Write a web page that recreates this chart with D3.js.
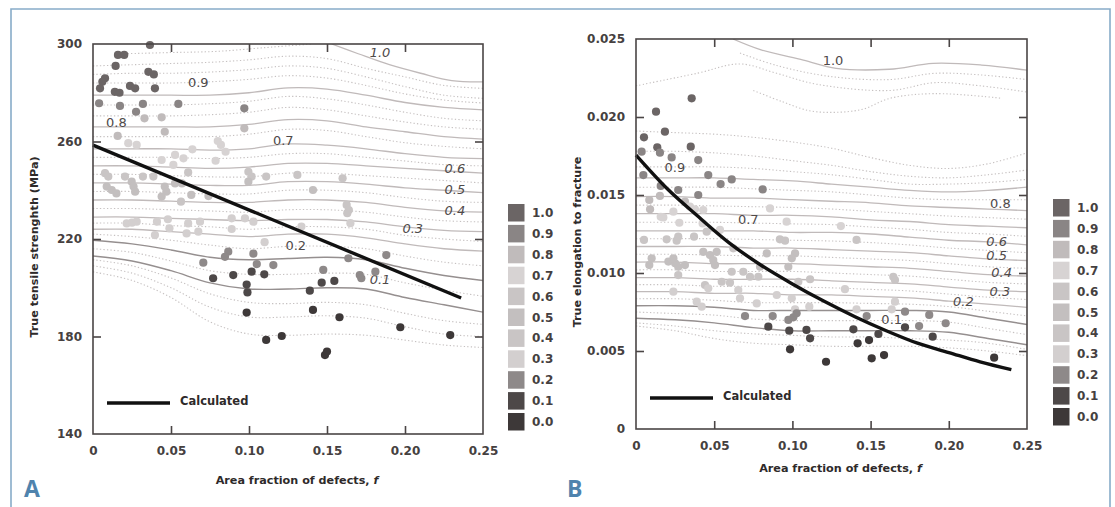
<!DOCTYPE html>
<html><head><meta charset="utf-8">
<script src="https://cdn.jsdelivr.net/npm/d3@7"></script>
<style>body{margin:0;background:#fff;} svg{display:block;}</style>
</head><body>
<svg id="c" width="1115" height="507"></svg>
<script>
// ---------- shared ----------
const xTicks = [0, 0.05, 0.10, 0.15, 0.20, 0.25];
const xTickLabels = ["0", "0.05", "0.10", "0.15", "0.20", "0.25"];
const legendLevels = [1.0, 0.9, 0.8, 0.7, 0.6, 0.5, 0.4, 0.3, 0.2, 0.1, 0.0];
const legendLabels = ["1.0", "0.9", "0.8", "0.7", "0.6", "0.5", "0.4", "0.3", "0.2", "0.1", "0.0"];
const legendColors = ["#6b6565", "#8a8585", "#c0bbbb", "#d7d3d3", "#c9c5c5", "#c3bfbf", "#c9c5c5", "#d3cfcf", "#8e8989", "#4d4848", "#3d3838"];
const fGrid = [0, 0.025, 0.05, 0.075, 0.10, 0.125, 0.15, 0.175, 0.20, 0.225, 0.25];

// ---------- Panel A (tensile strength) ----------
const aYTicks = [140, 180, 220, 260, 300];
const aLine10F = [0.153, 0.17, 0.19, 0.21, 0.23, 0.25];
const aLine10 = [300, 296, 291.5, 288, 285, 284.5];
const aLine09 = [279, 279, 279, 279, 280, 282, 281.5, 279, 276, 274, 273];
const aLine08 = [266, 266, 266, 266, 267, 269, 268.5, 266, 264, 262, 261];
const aLine07 = [257, 257, 257, 256.5, 257, 259, 258.5, 257, 255, 253.5, 253];
const aLine06 = [250, 250, 249.5, 249, 249.5, 251, 251, 250, 249, 248, 247];
const aLine05 = [243, 243, 242.5, 242, 242, 243.5, 243.5, 242.5, 241, 240, 239];
const aLine04 = [236, 236, 235.5, 235, 235, 236, 236, 235, 233, 231.5, 231];
const aLine03 = [229, 229, 228.5, 228, 227.5, 228, 228, 227, 225, 223.5, 223];
const aLine025 = [224, 224, 223, 222, 221, 222, 222, 220.5, 218, 216, 215];
const aLine02 = [219.5, 218, 215.5, 212.5, 211.5, 212, 212.5, 211.5, 208, 205, 203];
const aLine01 = [213, 211, 207, 202, 199.5, 199.5, 200, 199.5, 196, 193, 190];
const aDotTopF = [0.02, 0.05, 0.08, 0.11, 0.14];
const aDotTop = [296, 296.5, 297, 298.5, 300];
const aDot1 = [291, 291.5, 292, 292.5, 293.5, 295, 294, 290, 286.5, 283, 281.8];
const aDot2 = [287.5, 288, 288, 288.5, 289.5, 291, 290, 286.5, 282.5, 279, 277.7];
const aDot3 = [284, 284, 284, 284.5, 285.5, 287, 286, 283, 279.5, 277, 275.8];
const aDot4 = [275, 275, 275, 275.5, 276.5, 278.5, 277.5, 275, 272, 269.5, 268.5];
const aDot5 = [270.5, 270.5, 270.5, 271, 272, 274, 273, 270.5, 268, 266, 265];
const aDot6 = [262, 262, 262, 262, 263, 265, 264.5, 262, 259.5, 258, 257];
const aDot7 = [253.5, 253.5, 253.5, 253, 253.5, 255, 255, 253.5, 252, 250.5, 250];
const aDot8 = [246.5, 246.5, 246, 245.5, 245.5, 247, 247, 246, 245, 244, 243];
const aDot9 = [239.5, 239.5, 239, 238.5, 238.5, 240, 240, 239, 237, 235.5, 235];
const aDot10 = [232.5, 232.5, 232, 231.5, 231, 232, 232, 231, 229, 227.5, 227];
const aDot11 = [226.5, 226.5, 225.5, 225, 224, 225, 225, 224, 221.5, 220, 219];
const aDot12 = [222, 221, 219.5, 217.5, 216, 217, 217, 216, 213, 210.5, 209];
const aDot13 = [216, 214.5, 211, 207, 205.5, 205.5, 206, 205.5, 202, 199, 196.5];
const aDot14 = [211.5, 209, 204, 197.5, 194, 193.5, 194, 193, 189.5, 186.5, 185];
const aDot15 = [209, 206, 200, 192, 188, 188, 188.5, 187.5, 184, 181, 180];
const aDot16 = [206.5, 203, 196, 186, 181, 180.5, 181, 180.5, 178.5, 176.5, 175.5];
const aLabelText = ["1.0", "0.9", "0.8", "0.7", "0.6", "0.5", "0.4", "0.3", "0.2", "0.1"];
const aLabelF = [0.184, 0.0675, 0.015, 0.122, 0.232, 0.232, 0.232, 0.205, 0.13, 0.184];
const aLabelV = [296.6, 284.4, 268, 260.6, 249, 240.4, 231.6, 224.4, 217.5, 203.3];
const aLabelItalic = [true, false, false, false, true, true, true, true, false, true];

const aPtF = [0.0365,0.016,0.020,0.0145,0.0355,0.039,0.0077,0.006,0.0237,0.027,0.0397,0.0045,0.014,0.017,
  0.0039,0.0173,0.032,0.0547,0.097,0.0276,0.033,0.044,0.0158,0.046,0.097,0.0226,0.028,0.080,0.082,0.085,
  0.0637,0.0526,0.058,0.0786,0.044,0.0515,0.0077,0.0098,0.0205,0.032,0.0387,0.061,0.0996,0.1017,0.111,
  0.131,0.160,0.0088,0.012,0.015,0.0248,0.026,0.027,0.046,0.047,0.044,0.0526,0.057,0.063,0.0564,0.074,
  0.0996,0.141,0.1626,0.164,0.163,0.165,0.1336,0.0216,0.025,0.028,0.041,0.048,0.049,0.061,0.0686,0.0675,
  0.0889,0.0974,0.1028,0.0397,0.060,0.0889,0.110,0.0867,0.0846,0.1028,0.0707,0.105,0.1156,0.1637,0.188,
  0.1476,0.181,0.077,0.0899,0.1017,0.1098,0.0985,0.099,0.1466,0.1547,0.139,0.171,0.172,0.0985,0.141,
  0.158,0.197,0.229,0.111,0.121,0.1487,0.150];
const aPtV = [299.6,295.5,295.5,291.0,288.6,287.5,285.9,284.5,282.8,281.8,281.8,281.8,280.4,280.0,
  275.7,274.6,275.4,275.4,273.6,272.2,269.5,269.9,262.3,264.0,265.4,259.3,258.6,260.2,258.6,255.8,
  256.8,254.5,253.1,252.1,252.4,250.4,247.0,245.6,245.6,245.6,245.6,247.3,247.6,245.6,245.6,
  246.3,244.9,241.5,240.1,238.7,243.5,241.5,239.4,241.5,239.4,237.4,242.8,242.8,238.1,235.3,237.6,
  243.5,240.1,234.0,231.9,230.6,226.5,225.1,226.4,226.7,227.1,227.1,228.1,224.4,226.4,227.1,223.0,
  228.5,228.5,227.1,221.6,222.3,224.1,218.7,214.8,212.7,214.0,210.3,209.7,209.3,212.1,213.4,
  207.3,206.6,203.9,205.2,206.6,205.5,201.3,198.1,202.1,202.8,198.8,205.2,203.9,189.8,190.9,
  187.9,183.8,180.6,178.6,180.2,172.4,173.8];
const aPtLevel = [1,1,1,1,1,1,1,1,1,1,1,1,1,1,
  0.9,0.9,0.9,0.9,0.9,0.9,0.8,0.8,0.8,0.8,0.8,0.7,0.7,0.7,0.7,0.7,
  0.7,0.7,0.7,0.7,0.7,0.7,0.6,0.6,0.6,0.6,0.6,0.6,0.6,0.6,0.6,
  0.6,0.6,0.5,0.5,0.5,0.5,0.5,0.5,0.5,0.5,0.5,0.5,0.5,0.5,0.4,0.5,
  0.5,0.5,0.4,0.4,0.4,0.3,0.3,0.3,0.3,0.3,0.3,0.3,0.3,0.3,0.3,0.3,
  0.3,0.3,0.3,0.3,0.3,0.3,0.3,0.2,0.2,0.2,0.2,0.2,0.2,0.2,0.2,
  0.2,0.2,0.1,0.1,0.1,0.1,0.1,0.1,0.1,0.1,0.1,0.2,0.2,0,0,
  0,0,0,0,0,0,0];
const aCalcF = [0, 0.236];
const aCalcV = [258.5, 195.8];

// ---------- Panel B (elongation) ----------
const bYTicks = [0, 0.005, 0.010, 0.015, 0.020, 0.025];
const bYTickLabels = ["0", "0.005", "0.010", "0.015", "0.020", "0.025"];
const bLine10F = [0.062, 0.08, 0.107, 0.128, 0.162, 0.19, 0.221, 0.25];
const bLine10 = [0.0250, 0.0243, 0.02365, 0.02312, 0.02306, 0.02344, 0.02333, 0.0230];
const bLine09 = [0.0161, 0.0161, 0.0161, 0.0160, 0.0159, 0.0157, 0.0155, 0.0153, 0.0152, 0.0153, 0.0155];
const bLine08 = [0.0149, 0.0149, 0.0148, 0.0148, 0.0147, 0.0146, 0.0145, 0.0143, 0.0142, 0.0141, 0.0140];
const bLine07 = [0.0138, 0.0138, 0.0138, 0.0137, 0.0137, 0.0136, 0.0134, 0.0133, 0.0131, 0.0130, 0.0129];
const bLine06 = [0.0127, 0.0127, 0.0127, 0.0127, 0.0126, 0.0126, 0.0125, 0.0123, 0.0121, 0.0120, 0.0118];
const bLine05 = [0.0117, 0.0117, 0.0117, 0.0116, 0.0116, 0.0115, 0.0114, 0.0113, 0.0111, 0.0109, 0.0108];
const bLine04 = [0.0107, 0.0107, 0.0106, 0.0106, 0.0106, 0.0105, 0.0104, 0.0103, 0.0101, 0.0099, 0.0098];
const bLine03 = [0.0097, 0.0097, 0.0096, 0.0096, 0.0096, 0.0095, 0.0094, 0.0093, 0.0091, 0.0089, 0.0088];
const bLine025 = [0.0088, 0.0088, 0.0087, 0.0087, 0.0086, 0.0086, 0.0085, 0.0084, 0.0082, 0.0080, 0.0078];
const bLine02 = [0.0079, 0.0079, 0.0078, 0.0076, 0.0076, 0.0076, 0.0076, 0.0076, 0.0075, 0.0071, 0.0067];
const bLine01 = [0.0071, 0.0070, 0.0068, 0.0065, 0.0063, 0.0063, 0.0063, 0.0063, 0.0062, 0.0058, 0.0054];
const bDotTop1F = [0.0665, 0.09, 0.124, 0.1624, 0.191, 0.22, 0.25];
const bDotTop1 = [0.0241, 0.0233, 0.0226, 0.0224, 0.0228, 0.0227, 0.0224];
const bDotTop2F = [0, 0.039, 0.0665, 0.09, 0.1155, 0.1624, 0.191, 0.22, 0.25];
const bDotTop2 = [0.0220, 0.0228, 0.0234, 0.0228, 0.0221, 0.0217, 0.0222, 0.0220, 0.0216];
const bDotTop3F = [0.075, 0.093, 0.111, 0.128, 0.145, 0.1624, 0.191, 0.234];
const bDotTop3 = [0.0217, 0.0210, 0.0204, 0.0203, 0.0205, 0.0212, 0.0215, 0.0212];
const bDot1 = [0.0191, 0.0190, 0.0189, 0.0187, 0.0184, 0.0180, 0.0174, 0.0169, 0.0167, 0.0170, 0.0177];
const bDot2 = [0.0178, 0.0178, 0.0177, 0.0175, 0.0172, 0.0169, 0.0165, 0.0162, 0.0161, 0.0163, 0.0166];
const bDot3 = [0.0168, 0.0168, 0.0168, 0.0167, 0.0165, 0.0163, 0.0160, 0.0157, 0.0157, 0.0158, 0.0160];
const bDot4 = [0.0155, 0.0155, 0.0155, 0.0154, 0.0153, 0.0152, 0.0150, 0.0148, 0.0147, 0.0147, 0.0147];
const bDot5 = [0.01435, 0.01435, 0.0143, 0.01425, 0.0142, 0.0141, 0.01395, 0.0138, 0.01365, 0.01355, 0.01345];
const bDot6 = [0.01325, 0.01325, 0.01325, 0.0132, 0.01315, 0.0131, 0.01295, 0.0128, 0.0126, 0.0125, 0.01235];
const bDot7 = [0.0122, 0.0122, 0.0122, 0.01215, 0.0121, 0.01205, 0.01195, 0.0118, 0.0116, 0.01145, 0.0113];
const bDot8 = [0.0112, 0.0112, 0.01115, 0.0111, 0.0111, 0.011, 0.0109, 0.0108, 0.0106, 0.0104, 0.0103];
const bDot9 = [0.0102, 0.0102, 0.0101, 0.0101, 0.0101, 0.01, 0.0099, 0.0098, 0.0096, 0.0094, 0.0093];
const bDot10 = [0.00925, 0.00925, 0.00915, 0.00915, 0.0091, 0.00905, 0.00895, 0.00885, 0.00865, 0.00845, 0.0083];
const bDot11 = [0.00835, 0.00835, 0.00825, 0.0081, 0.0081, 0.0081, 0.00805, 0.008, 0.00785, 0.00755, 0.00725];
const bDot12 = [0.0075, 0.0074, 0.0073, 0.00705, 0.00695, 0.00695, 0.00695, 0.00695, 0.00685, 0.00645, 0.00605];
const bDot13 = [0.0068, 0.0066, 0.0063, 0.0061, 0.0060, 0.0059, 0.0059, 0.0058, 0.0057, 0.0055, 0.0051];
const bDot14 = [0.0066, 0.0063, 0.0058, 0.0055, 0.0054, 0.0053, 0.0053, 0.0053, 0.0052, 0.0050, 0.0047];
const bLabelText = ["1.0", "0.9", "0.8", "0.7", "0.6", "0.5", "0.4", "0.3", "0.2", "0.1"];
const bLabelF = [0.126, 0.0249, 0.233, 0.0718, 0.2306, 0.2306, 0.2338, 0.2327, 0.2093, 0.1635];
const bLabelV = [0.0236, 0.01677, 0.01447, 0.01344, 0.0120, 0.01109, 0.01002, 0.0088, 0.00816, 0.00703];
const bLabelItalic = [false, false, false, false, true, true, true, true, true, false];

const bPtF = [0.0356,0.0128,0.0185,0.0051,0.0036,0.0136,0.0153,0.035,0.0228,0.0398,0.0047,0.0462,0.0541,
  0.0612,0.081,0.0158,0.027,0.0398,0.0085,0.0153,0.0313,0.009,0.0158,0.0175,0.0239,0.0277,0.0345,0.0377,
  0.043,0.0857,0.0963,0.131,0.141,0.0051,0.0196,0.026,0.027,0.0371,0.0426,0.0452,0.092,0.0953,0.0622,
  0.0537,0.010,0.0085,0.0207,0.025,0.027,0.0239,0.0313,0.027,0.043,0.0473,0.0494,0.0505,0.0516,0.0612,
  0.0686,0.0548,0.0601,0.0654,0.0665,0.0441,0.0462,0.0239,0.0388,0.042,0.0729,0.0782,0.0772,0.0836,
  0.0793,0.090,0.1017,0.0996,0.0974,0.1038,0.0996,0.1113,0.1108,0.1017,0.1336,0.1645,0.1656,0.1656,
  0.141,0.1635,0.172,0.1475,0.1875,0.198,0.181,0.172,0.0697,0.0874,0.0974,0.1006,0.1027,0.0846,0.098,
  0.109,0.1113,0.139,0.1417,0.149,0.155,0.1897,0.0985,0.1215,0.1507,0.1586,0.229];
const bPtV = [0.0212,0.02034,0.01906,0.0187,0.01778,0.01806,0.01771,0.0181,0.01741,0.01724,0.01628,0.01628,0.0157,
  0.0160,0.01536,0.01558,0.01532,0.0150,0.01468,0.01494,0.01457,0.01408,0.0136,0.01356,0.01393,0.01322,0.01425,0.01408,
  0.01404,0.01414,0.01329,0.01301,0.01212,0.01212,0.01216,0.01207,0.01233,0.01233,0.01318,0.01265,0.01216,0.01207,0.01158,
  0.01276,0.01094,0.01051,0.01073,0.01062,0.0104,0.01094,0.01051,0.00987,0.01136,0.01115,0.01083,0.01051,0.01136,0.01008,
  0.01008,0.00944,0.00938,0.00891,0.00838,0.00923,0.00902,0.0088,0.00816,0.00784,0.00976,0.00976,0.00805,0.01126,
  0.0104,0.00859,0.01126,0.01094,0.0104,0.00944,0.00838,0.0096,0.00784,0.00767,0.00896,0.00976,0.00955,0.00816,
  0.00767,0.00767,0.00752,0.00724,0.00731,0.00678,0.0066,0.00652,0.00724,0.00724,0.00699,0.00716,0.00742,0.00656,0.0063,
  0.00635,0.00581,0.00639,0.00549,0.0057,0.00609,0.00592,0.00511,0.00431,0.00453,0.00474,0.00457];
const bPtLevel = [1,1,1,1,0.9,1,0.9,1,0.9,0.9,0.9,0.9,0.9,
  0.9,0.9,0.9,0.9,0.9,0.8,0.8,0.8,0.8,0.7,0.7,0.7,0.7,0.7,0.7,
  0.7,0.7,0.7,0.7,0.6,0.6,0.6,0.6,0.6,0.6,0.7,0.6,0.6,0.6,0.6,
  0.7,0.5,0.5,0.5,0.5,0.5,0.5,0.5,0.4,0.5,0.5,0.5,0.5,0.5,0.4,
  0.4,0.4,0.4,0.3,0.3,0.4,0.3,0.3,0.3,0.3,0.4,0.4,0.3,0.5,
  0.5,0.3,0.5,0.5,0.5,0.4,0.3,0.4,0.3,0.3,0.3,0.4,0.4,0.3,
  0.3,0.3,0.2,0.2,0.2,0.2,0.2,0.1,0.2,0.2,0.2,0.2,0.2,0.1,0.1,
  0.1,0.1,0.1,0,0,0.1,0.1,0,0,0,0,0];
const bCalcF = [0, 0.02, 0.04, 0.06, 0.08, 0.10, 0.12, 0.14, 0.16, 0.18, 0.20, 0.22, 0.24];
const bCalcV = [0.01756, 0.0154, 0.0136, 0.0119, 0.0105, 0.0093, 0.0082, 0.0072, 0.0063, 0.0055, 0.0049, 0.0043, 0.0038];

// ---------- drawing ----------
const svg = d3.select("#c");
const colorOf = d3.scaleOrdinal(legendLevels, legendColors);
const FONT = "'DejaVu Sans', sans-serif";

// outer frame
svg.append("path").attr("d", "M11,512 L11,9 L1110,9 L1110,512")
  .attr("fill", "none").attr("stroke", "#88acc9").attr("stroke-width", 1.6);

function panel(cfg) {
  const x = d3.scaleLinear().domain([0, 0.25]).range(cfg.xr);
  const y = d3.scaleLinear().domain(cfg.yd).range(cfg.yr);
  const g = svg.append("g");
  const clipId = "clip" + cfg.id;
  svg.append("clipPath").attr("id", clipId).append("rect")
    .attr("x", cfg.xr[0]).attr("y", cfg.yr[1]).attr("width", cfg.xr[1] - cfg.xr[0]).attr("height", cfg.yr[0] - cfg.yr[1]);
  const cg = g.append("g").attr("clip-path", `url(#${clipId})`);
  const line = d3.line().x(d => x(d[0])).y(d => y(d[1])).curve(d3.curveCatmullRom);
  const zip = (fs, vs) => fs.map((f, i) => [f, vs[i]]);

  cfg.dotted.forEach(([fs, vs]) => cg.append("path").attr("d", line(zip(fs, vs)))
    .attr("fill", "none").attr("stroke", "#c6c1c1").attr("stroke-width", 1.1).attr("stroke-dasharray", "1.3 2.2"));
  cfg.solid.forEach(([fs, vs, dark]) => cg.append("path").attr("d", line(zip(fs, vs)))
    .attr("fill", "none").attr("stroke", dark ? "#958f8f" : "#c0baba").attr("stroke-width", dark ? 1.4 : 1.3));

  // contour labels
  cfg.labels.t.forEach((t, i) => g.append("text").attr("x", x(cfg.labels.f[i])).attr("y", y(cfg.labels.v[i]))
    .attr("text-anchor", "middle").attr("dominant-baseline", "central")
    .attr("font-family", FONT).attr("font-size", 13).attr("fill", "#4f4a4a")
    .attr("font-style", cfg.labels.it[i] ? "italic" : "normal").text(t));

  // points
  g.selectAll("circle.pt").data(cfg.pf.map((f, i) => [f, cfg.pv[i], cfg.pl[i]])).enter().append("circle")
    .attr("cx", d => x(d[0])).attr("cy", d => y(d[1])).attr("r", 4.1)
    .attr("fill", d => colorOf(d[2]));

  // calculated
  g.append("path").attr("d", d3.line().x(d => x(d[0])).y(d => y(d[1])).curve(d3.curveMonotoneX)(zip(cfg.cf, cfg.cv)))
    .attr("fill", "none").attr("stroke", "#111").attr("stroke-width", 3.4);

  // frame
  g.append("rect").attr("x", cfg.xr[0]).attr("y", cfg.yr[1]).attr("width", cfg.xr[1] - cfg.xr[0]).attr("height", cfg.yr[0] - cfg.yr[1])
    .attr("fill", "none").attr("stroke", "#4a4545").attr("stroke-width", 1.6);

  const innerX = xTicks.slice(1, -1);
  const innerY = cfg.yTicks.slice(1, -1);
  const styleAxis = sel => { sel.select(".domain").remove(); sel.selectAll("line").attr("stroke", "#4a4545").attr("stroke-width", 1.6); };
  // bottom axis with labels
  g.append("g").attr("transform", `translate(0,${cfg.yr[0]})`)
    .call(d3.axisBottom(x).tickValues(xTicks).tickSize(-8).tickPadding(12).tickFormat((d, i) => xTickLabels[i]))
    .call(styleAxis)
    .call(s => { s.selectAll(".tick").filter(d => d === 0 || d === 0.25).select("line").remove();
      s.selectAll("text").attr("font-family", FONT).attr("font-weight", "bold").attr("font-size", 12).attr("fill", "#454040"); });
  g.append("g").attr("transform", `translate(0,${cfg.yr[1]})`)
    .call(d3.axisTop(x).tickValues(innerX).tickSize(-8).tickFormat("")).call(styleAxis);
  g.append("g").attr("transform", `translate(${cfg.xr[0]},0)`)
    .call(d3.axisLeft(y).tickValues(cfg.yTicks).tickSize(-8).tickPadding(11).tickFormat((d, i) => cfg.yTickLabels[i]))
    .call(styleAxis)
    .call(s => { s.selectAll(".tick").filter((d, i) => i === 0 || i === cfg.yTicks.length - 1).select("line").remove();
      s.selectAll("text").attr("font-family", FONT).attr("font-weight", "bold").attr("font-size", 12).attr("fill", "#454040"); });
  g.append("g").attr("transform", `translate(${cfg.xr[1]},0)`)
    .call(d3.axisRight(y).tickValues(innerY).tickSize(-8).tickFormat("")).call(styleAxis);

  // axis titles
  g.append("text").attr("x", (cfg.xr[0] + cfg.xr[1]) / 2 + 9).attr("y", cfg.xTitleY)
    .attr("text-anchor", "middle").attr("font-family", FONT).attr("font-weight", "bold").attr("font-size", 11.2)
    .attr("fill", "#2e2a2a").text("Area fraction of defects, ").append("tspan").attr("font-style", "italic").text("f");
  g.append("text").attr("transform", `translate(${cfg.yTitleX},${(cfg.yr[0] + cfg.yr[1]) / 2 + 8}) rotate(-90)`)
    .attr("text-anchor", "middle").attr("dominant-baseline", "central").attr("font-family", FONT).attr("font-weight", "bold").attr("font-size", 11.2)
    .attr("fill", "#2e2a2a").text(cfg.yTitle);

  // calculated legend
  g.append("line").attr("x1", cfg.xr[0] + 14).attr("x2", cfg.xr[0] + 77).attr("y1", cfg.calcLegY).attr("y2", cfg.calcLegY)
    .attr("stroke", "#111").attr("stroke-width", 3.4);
  g.append("text").attr("x", cfg.xr[0] + 87).attr("y", cfg.calcLegY - 2).attr("dominant-baseline", "central")
    .attr("font-family", FONT).attr("font-weight", "bold").attr("font-size", 11.5).attr("fill", "#2e2a2a").text("Calculated");

  // colour legend
  const lg = g.append("g");
  legendLevels.forEach((lv, i) => {
    lg.append("rect").attr("x", cfg.legX).attr("y", cfg.legY + i * 20.9).attr("width", 16.5).attr("height", 17.5)
      .attr("fill", legendColors[i]);
    lg.append("text").attr("x", cfg.legX + 24).attr("y", cfg.legY + i * 20.9 + 9).attr("dominant-baseline", "central")
      .attr("font-family", FONT).attr("font-weight", "bold").attr("font-size", 12).attr("fill", "#454040").text(legendLabels[i]);
  });

  // panel letter
  g.append("text").attr("x", cfg.letterX).attr("y", 497).attr("font-family", "'Open Sans', sans-serif").attr("font-weight", "bold")
    .attr("font-size", 23).attr("fill", "#4f83ad").text(cfg.letter);
}

panel({
  id: "A", xr: [93, 483], yr: [434, 44], yd: [140, 300],
  yTicks: aYTicks, yTickLabels: aYTicks.map(String),
  solid: [[aLine10F, aLine10], [fGrid, aLine09], [fGrid, aLine08], [fGrid, aLine07], [fGrid, aLine06], [fGrid, aLine05],
          [fGrid, aLine04], [fGrid, aLine03], [fGrid, aLine025], [fGrid, aLine02, true], [fGrid, aLine01, true]],
  dotted: [[aDotTopF, aDotTop], [fGrid, aDot1], [fGrid, aDot2], [fGrid, aDot3], [fGrid, aDot4], [fGrid, aDot5], [fGrid, aDot6],
           [fGrid, aDot7], [fGrid, aDot8], [fGrid, aDot9], [fGrid, aDot10], [fGrid, aDot11], [fGrid, aDot12],
           [fGrid, aDot13], [fGrid, aDot14], [fGrid, aDot15], [fGrid, aDot16]],
  labels: { t: aLabelText, f: aLabelF, v: aLabelV, it: aLabelItalic },
  pf: aPtF, pv: aPtV, pl: aPtLevel, cf: aCalcF, cv: aCalcV,
  xTitleY: 484, yTitleX: 34, yTitle: "True tensile strenghth (MPa)", calcLegY: 403,
  legX: 508, legY: 204, letter: "A", letterX: 24
});
panel({
  id: "B", xr: [636, 1027], yr: [429, 39], yd: [0, 0.025],
  yTicks: bYTicks, yTickLabels: bYTickLabels,
  solid: [[bLine10F, bLine10], [fGrid, bLine09], [fGrid, bLine08], [fGrid, bLine07], [fGrid, bLine06], [fGrid, bLine05],
          [fGrid, bLine04], [fGrid, bLine03], [fGrid, bLine025], [fGrid, bLine02, true], [fGrid, bLine01, true]],
  dotted: [[bDotTop1F, bDotTop1], [bDotTop2F, bDotTop2], [bDotTop3F, bDotTop3], [fGrid, bDot1], [fGrid, bDot2], [fGrid, bDot3],
           [fGrid, bDot4], [fGrid, bDot5], [fGrid, bDot6], [fGrid, bDot7], [fGrid, bDot8], [fGrid, bDot9], [fGrid, bDot10],
           [fGrid, bDot11], [fGrid, bDot12], [fGrid, bDot13], [fGrid, bDot14]],
  labels: { t: bLabelText, f: bLabelF, v: bLabelV, it: bLabelItalic },
  pf: bPtF, pv: bPtV, pl: bPtLevel, cf: bCalcF, cv: bCalcV,
  xTitleY: 472, yTitleX: 577, yTitle: "True elongation to fracture", calcLegY: 398,
  legX: 1053, legY: 199, letter: "B", letterX: 567
});
</script>
</body></html>
